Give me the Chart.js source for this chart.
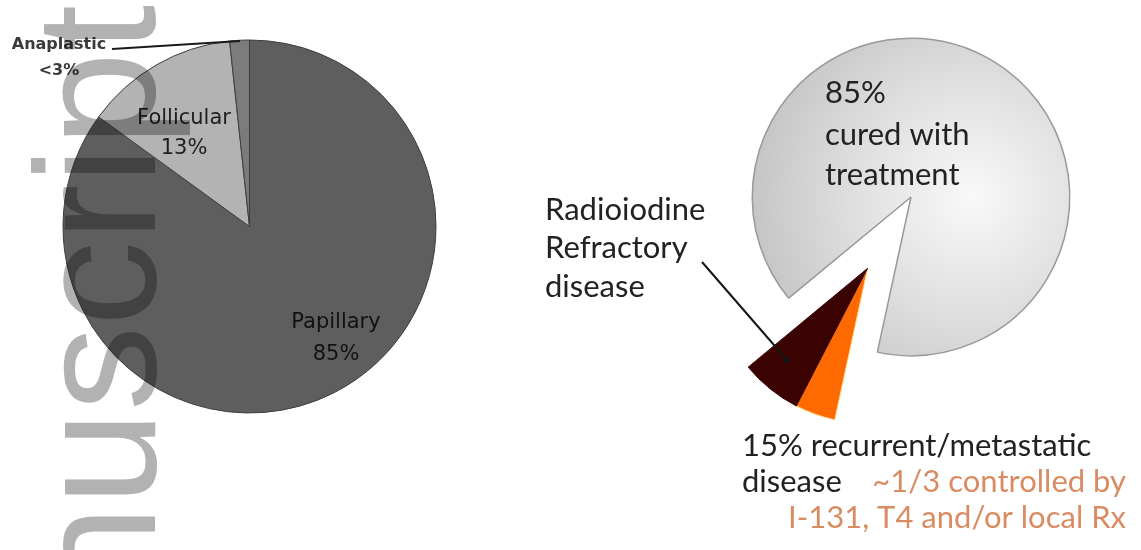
<!DOCTYPE html>
<html>
<head>
<meta charset="utf-8">
<script src="https://cdn.jsdelivr.net/npm/chart.js@4.4.0/dist/chart.umd.min.js"></script>
<style>
html, body { margin: 0; padding: 0; background: #fff; }
#wrap { position: relative; width: 1141px; height: 550px; overflow: hidden; }
#wrap canvas { position: absolute; left: 0; top: 0; }
#mark {
    position: absolute; left: 11px; top: 600px;
    transform-origin: 0 0; transform: rotate(-90deg);
    font: 170px/1 "Liberation Sans", Arial, sans-serif;
    color: rgba(0, 0, 0, 0.3); white-space: nowrap; z-index: 5;
}
</style>
</head>
<body>
<div id="wrap">
    <canvas id="typeChart" width="1141" height="550"></canvas>
    <canvas id="outcomeChart" width="1141" height="550"></canvas>
    <canvas id="relapseChart" width="1141" height="550"></canvas>
    <div id="mark">nuscript</div>
</div>
<script>
// left pie: histologic types
const typeLabels = ['Papillary', 'Follicular', 'Anaplastic'];
const typeValues = [85, 13.3, 1.7];
const typePct = ['85%', '13%', '<3%'];

// right pie: outcome after treatment
const outcomeLabels = ['cured with treatment', '1/3 controlled by I-131, T4 and/or local Rx', 'Radioiodine Refractory disease'];
const outcomeValues = [89.4, 4.2, 6.4];

const W = 1141, H = 550;
Chart.defaults.animation = false;

// padding so that the pie of radius r sits centred at cx, cy
function placeAt(cx, cy, r) {
    return { left: cx - r, top: cy - r, right: W - cx - r, bottom: H - cy - r };
}

function textPlugin(id, items, lines) {
    return {
        id: id,
        afterDraw(chart) {
            const ctx = chart.ctx;
            ctx.save();
            (lines || []).forEach(l => {
                ctx.strokeStyle = l.color;
                ctx.lineWidth = l.width;
                ctx.beginPath();
                ctx.moveTo(l.x1, l.y1);
                ctx.lineTo(l.x2, l.y2);
                ctx.stroke();
                if (l.dot) {
                    ctx.fillStyle = l.color;
                    ctx.beginPath();
                    ctx.arc(l.x2, l.y2, l.dot, 0, Math.PI * 2);
                    ctx.fill();
                }
            });
            items.forEach(t => {
                ctx.font = t.font;
                ctx.fillStyle = t.color;
                ctx.textAlign = t.align || 'center';
                ctx.textBaseline = 'alphabetic';
                ctx.fillText(t.text, t.x, t.y);
            });
            ctx.restore();
        }
    };
}

// ---- left pie ----
const smallFont = '21px "DejaVu Sans", sans-serif';
const tinyFont = 'bold 16px "DejaVu Sans", sans-serif';
const leftText = [
    { text: typeLabels[0], x: 336, y: 328, font: smallFont, color: '#111' },
    { text: typePct[0], x: 336, y: 360, font: smallFont, color: '#111' },
    { text: typeLabels[1], x: 184, y: 124, font: smallFont, color: '#1e1e1e' },
    { text: typePct[1], x: 184, y: 154, font: smallFont, color: '#1e1e1e' },
    { text: typeLabels[2], x: 59, y: 49, font: tinyFont, color: '#3a3a3a' },
    { text: typePct[2], x: 59, y: 75, font: tinyFont, color: '#3a3a3a' }
];
const leftLines = [{ x1: 112, y1: 49, x2: 240, y2: 41, color: '#1a1a1a', width: 2 }];

new Chart(document.getElementById('typeChart'), {
    type: 'pie',
    data: {
        labels: typeLabels,
        datasets: [{
            data: typeValues,
            backgroundColor: ['#5e5e5e', '#b3b3b3', '#7c7c7c'],
            borderColor: '#3e3e3e',
            borderWidth: 1
        }]
    },
    options: {
        responsive: false,
        layout: { padding: placeAt(249.5, 226.5, 187) },
        plugins: { legend: { display: false }, tooltip: { enabled: false } }
    },
    plugins: [textPlugin('leftText', leftText, leftLines)]
});

// ---- right pie ----
const startDeg = 230.4;
const grayC = { x: 911, y: 197 };

function metal(c) {
    const area = c.chart.chartArea;
    if (!area) return '#d8d8d8';
    const cx = (area.left + area.right) / 2 + 60, cy = (area.top + area.bottom) / 2;
    const g = c.chart.ctx.createRadialGradient(cx, cy, 4, cx, cy, 240);
    g.addColorStop(0, '#f8f8f8');
    g.addColorStop(0.5, '#dedede');
    g.addColorStop(1, '#c0c0c0');
    return g;
}

new Chart(document.getElementById('outcomeChart'), {
    type: 'pie',
    data: {
        labels: outcomeLabels,
        datasets: [{
            data: outcomeValues,
            backgroundColor: c => c.dataIndex === 0 ? metal(c) : 'rgba(0,0,0,0)',
            borderColor: ['#999', 'rgba(0,0,0,0)', 'rgba(0,0,0,0)'],
            borderWidth: 1.5
        }]
    },
    options: {
        responsive: false,
        rotation: startDeg,
        layout: { padding: placeAt(grayC.x, grayC.y, 159.5) },
        plugins: { legend: { display: false }, tooltip: { enabled: false } }
    }
});

// the two small slices are pulled out together along their common middle
const total = outcomeValues.reduce((a, b) => a + b, 0);
const midDeg = startDeg + (outcomeValues[0] + (total - outcomeValues[0]) / 2) / total * 360;
const midRad = (midDeg - 90) * Math.PI / 180;
const pull = 83.5;
const wedgeC = { x: grayC.x + pull * Math.cos(midRad), y: grayC.y + pull * Math.sin(midRad) };

const bigFont = '31px Lato, "Open Sans", sans-serif';
const rightText = [
    { text: '85%', x: 825, y: 103, font: bigFont, color: '#222', align: 'left' },
    { text: 'cured with', x: 825, y: 145, font: bigFont, color: '#222', align: 'left' },
    { text: 'treatment', x: 825, y: 185, font: bigFont, color: '#222', align: 'left' },
    { text: 'Radioiodine', x: 545, y: 220, font: bigFont, color: '#222', align: 'left' },
    { text: 'Refractory', x: 545, y: 258, font: bigFont, color: '#222', align: 'left' },
    { text: 'disease', x: 545, y: 297, font: bigFont, color: '#222', align: 'left' },
    { text: '15% recurrent/metastatic', x: 742, y: 456, font: bigFont, color: '#222', align: 'left' },
    { text: 'disease', x: 742, y: 492, font: bigFont, color: '#222', align: 'left' },
    { text: '~1/3 controlled by', x: 1126, y: 492, font: bigFont, color: '#d98b62', align: 'right' },
    { text: 'I-131, T4 and/or local Rx', x: 1126, y: 528, font: bigFont, color: '#d98b62', align: 'right' }
];
const rightLines = [{ x1: 702, y1: 262, x2: 787, y2: 360, color: '#151515', width: 2, dot: 3 }];

new Chart(document.getElementById('relapseChart'), {
    type: 'pie',
    data: {
        labels: outcomeLabels,
        datasets: [{
            data: outcomeValues,
            backgroundColor: ['rgba(0,0,0,0)', '#ff6a00', '#3b0202'],
            borderColor: ['rgba(0,0,0,0)', '#ffd98a', '#3b0202'],
            borderWidth: 1
        }]
    },
    options: {
        responsive: false,
        rotation: startDeg,
        layout: { padding: placeAt(wedgeC.x, wedgeC.y, 155.5) },
        plugins: { legend: { display: false }, tooltip: { enabled: false } }
    },
    plugins: [textPlugin('rightText', rightText, rightLines)]
});
</script>
</body>
</html>
